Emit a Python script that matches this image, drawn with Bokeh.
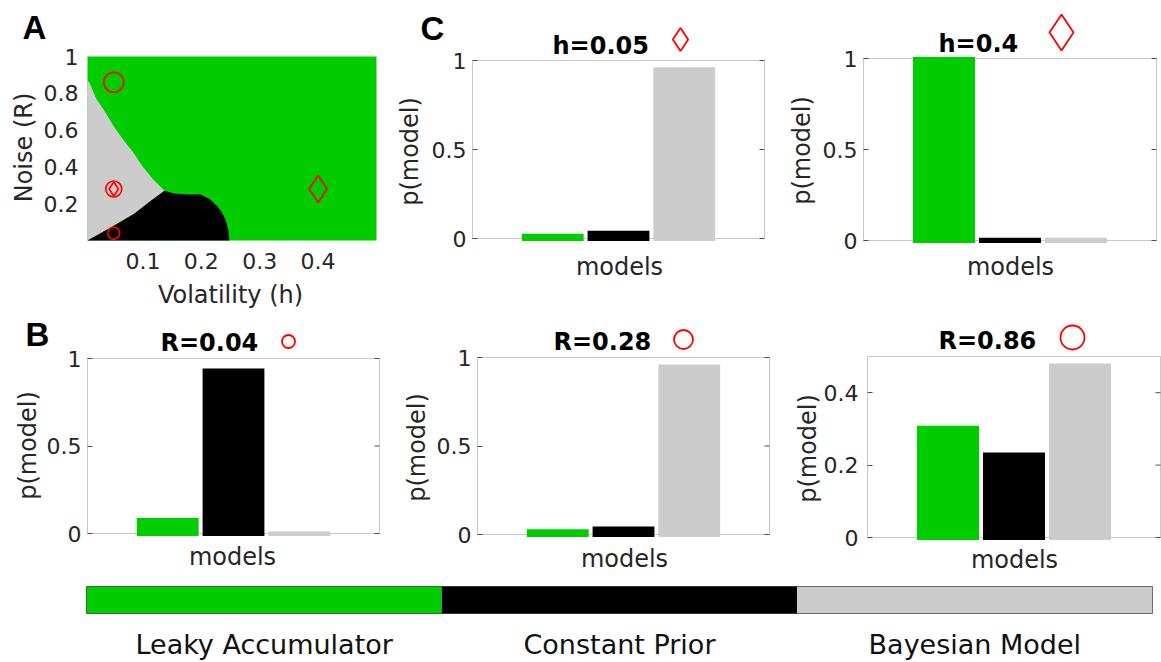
import math
from bokeh.plotting import figure
from bokeh.models import (Label, BoxAnnotation, FixedTicker, NumeralTickFormatter,
                          Range1d, FactorRange)
from bokeh.layouts import row, column
from bokeh.embed import file_html
from bokeh.resources import INLINE

# ---------------- data ----------------
models = ["Leaky Accumulator", "Constant Prior", "Bayesian Model"]
model_colors = ["#00cc00", "#000000", "#cccccc"]
bar_pos = [1, 2, 3]

c1_title = "h=0.05"
c1_vals = [0.027, 0.044, 0.962]
c2_title = "h=0.4"
c2_vals = [1.008, 0.015, 0.015]
b1_title = "R=0.04"
b1_vals = [0.088, 0.943, 0.012]
b2_title = "R=0.28"
b2_vals = [0.030, 0.045, 0.960]
b3_title = "R=0.86"
b3_vals = [0.309, 0.235, 0.481]

# panel A: region boundaries (volatility h, noise R)
gg_h = [0.005, 0.008, 0.020, 0.035, 0.050, 0.067, 0.083, 0.100, 0.118, 0.137]   # gray / green
gg_R = [0.870, 0.860, 0.770, 0.700, 0.620, 0.545, 0.480, 0.400, 0.330, 0.270]
gb_h = [0.005, 0.045, 0.085, 0.113, 0.137]                                      # gray / black
gb_R = [0.0, 0.070, 0.145, 0.215, 0.270]
bk_h = [0.137, 0.153, 0.176, 0.199, 0.214, 0.226, 0.234, 0.241, 0.246, 0.248]   # black / green
bk_R = [0.270, 0.255, 0.250, 0.250, 0.225, 0.190, 0.160, 0.115, 0.060, 0.0]

circle_h = [0.05, 0.05, 0.05]
circle_R = [0.04, 0.28, 0.86]
circle_sz = [12, 16, 20]
diamond_h = [0.05, 0.4]
diamond_R = [0.28, 0.28]
diamond_sz = [14, 27]

a_xlim = (0.005, 0.5)
a_ylim = (0.0, 1.0)
a_xticks = [0.1, 0.2, 0.3, 0.4]
a_yticks = [0.2, 0.4, 0.6, 0.8, 1.0]
bar_xlim = (-0.22, 4.22)
p_ticks = [0, 0.5, 1]
b3_ticks = [0, 0.2, 0.4]

AX = "#4d4d4d"
TXT = "#262626"
FONT = "DejaVu Sans"
TICK_FS = "22px"
LAB_FS = "24px"
BASE_FIX = 7   # svg alphabetic-baseline correction (px)
TICK_LEN = 5   # px
BAR_DROP = 2.5  # px the bars reach below the baseline


class Panel:
    """A figure whose frame fills its whole rectangle; the data box sits at given page pixels."""

    def __init__(self, rect, box_px, box_data):
        fx, fy, fw, fh = rect
        bl, br, bt, bb = box_px
        x0, x1, y0, y1 = box_data
        self.fx, self.fy, self.fw, self.fh = rect
        self.sx = (x1 - x0) / (br - bl)
        self.sy = (y1 - y0) / (bb - bt)
        self.xs = x0 - (bl - fx) * self.sx
        self.ys = y0 - (fy + fh - bb) * self.sy
        xe = x1 + (fx + fw - br) * self.sx
        ye = y1 + (bt - fy) * self.sy
        p = figure(width=fw, height=fh, x_range=Range1d(self.xs, xe), y_range=Range1d(self.ys, ye),
                   output_backend="svg", toolbar_location=None,
                   min_border_left=0, min_border_right=0, min_border_top=0, min_border_bottom=0)
        p.title.visible = False
        p.xgrid.visible = False
        p.ygrid.visible = False
        p.background_fill_color = "white"
        p.border_fill_color = "white"
        p.outline_line_color = None
        self.p = p

    def x(self, px):
        return self.xs + (px - self.fx) * self.sx

    def y(self, py):
        return self.ys + (self.fy + self.fh - py) * self.sy

    def text(self, txt, px, py, size, bold=False, font=FONT, color=TXT, align="left"):
        self.p.add_layout(Label(x=self.x(px), y=self.y(py - BASE_FIX), text=txt, text_font=font,
                                text_font_style="bold" if bold else "normal",
                                text_font_size=size, text_color=color,
                                text_align=align, text_baseline="alphabetic"))

    def vtext(self, txt, px, py, size, color=TXT):
        self.p.add_layout(Label(x=self.x(px), y=self.y(py), text=txt, text_font=FONT,
                                text_font_size=size, text_color=color, angle=math.pi / 2,
                                text_align="center", text_baseline="middle"))


def style_ticks(ax, ticks, loc, standoff, tick_in=0):
    ax.ticker = FixedTicker(ticks=ticks)
    ax.formatter = NumeralTickFormatter(format="0.[0]")
    ax.fixed_location = loc
    ax.axis_line_color = None
    ax.major_tick_in = tick_in
    ax.major_tick_out = 0
    ax.major_tick_line_color = AX if tick_in else None
    ax.minor_tick_line_color = None
    ax.major_label_text_font = FONT
    ax.major_label_text_font_size = TICK_FS
    ax.major_label_text_color = TXT
    ax.major_label_standoff = standoff


def letter(panel, txt, px, py):
    panel.text(txt, px, py, "33px", bold=True, font="Liberation Sans", color="black")


def bar_panel(rect, box_px, ytop, yticks, vals, title, t_px, t_base, mk, mk_px, mk_py,
              mk_size, ylab_c, xlab_c, tstand=6):
    pn = Panel(rect, box_px, (bar_xlim[0], bar_xlim[1], 0.0, ytop))
    p = pn.p
    p.add_layout(BoxAnnotation(left=bar_xlim[0], right=bar_xlim[1], bottom=0, top=ytop,
                               fill_color=None, line_color=AX, line_width=1, level="underlay"))
    p.vbar(x=bar_pos, top=vals, width=0.94, bottom=-BAR_DROP * pn.sy,
           fill_color=model_colors, line_color=None)

    style_ticks(p.yaxis[0], yticks, bar_xlim[0], tstand, tick_in=TICK_LEN)
    p.yaxis[0].bounds = (0, ytop)
    p.xaxis.visible = False
    # inward ticks on the right edge of the box
    p.segment(x0=[bar_xlim[1] - TICK_LEN * pn.sx] * len(yticks), x1=[bar_xlim[1]] * len(yticks),
              y0=yticks, y1=yticks, line_color=AX, line_width=1)

    pn.vtext("p(model)", ylab_c[0], ylab_c[1], LAB_FS)
    pn.text("models", xlab_c[0], xlab_c[1], LAB_FS, align="center")

    pn.text(title, t_px, t_base, "24px", bold=True, color="black")
    p.scatter(x=[pn.x(mk_px)], y=[pn.y(mk_py)], marker=mk, size=mk_size,
              fill_color=None, line_color="red", line_width=1.8)
    return pn


# ---------------- panel A ----------------
pnA = Panel((0, 0, 395, 312), (87, 376, 56, 240), a_xlim + a_ylim)
pA = pnA.p
pA.quad(left=[a_xlim[0]], right=[a_xlim[1]], bottom=[a_ylim[0]], top=[a_ylim[1]],
        fill_color=model_colors[0], line_color=None)
gray_x = gg_h + gb_h[::-1]
gray_y = gg_R + gb_R[::-1]
black_x = gb_h + bk_h
black_y = gb_R + bk_R
pA.patch(gray_x, gray_y, fill_color=model_colors[2], line_color=None)
pA.patch(black_x, black_y, fill_color=model_colors[1], line_color=None)

pA.scatter(x=circle_h, y=circle_R, size=circle_sz, marker="circle",
           fill_color=None, line_color="red", line_width=1.6)
pA.scatter(x=diamond_h, y=diamond_R, size=diamond_sz, marker="diamond",
           fill_color=None, line_color="red", line_width=1.6)

style_ticks(pA.xaxis[0], a_xticks, a_ylim[0], 12)
style_ticks(pA.yaxis[0], a_yticks, a_xlim[0], 9)
pnA.vtext("Noise (R)", 23, 147, LAB_FS)
pnA.text("Volatility (h)", 230, 301, LAB_FS, align="center")
letter(pnA, "A", 22, 34)

# ---------------- panels C ----------------
pnC1 = bar_panel((395, 0, 393, 312), (472, 764, 60, 238), 1.0, p_ticks, c1_vals,
                 c1_title, 552, 52, "diamond", 680, 39, 23, (409, 151), (619, 273))
letter(pnC1, "C", 420, 35)
pnC2 = bar_panel((788, 0, 373, 312), (863, 1156, 58, 240), 1.0, p_ticks, c2_vals,
                 c2_title, 938, 50, "diamond", 1061, 32, 36, (801, 150), (1010, 273))

# ---------------- panels B ----------------
pnB1 = bar_panel((0, 312, 395, 263), (87, 379, 358, 533), 1.0, p_ticks, b1_vals,
                 b1_title, 160, 349, "circle", 288, 341, 13, (27, 445), (232, 563))
letter(pnB1, "B", 25, 341)
pnB2 = bar_panel((395, 312, 395, 263), (477, 769, 357, 534), 1.0, p_ticks, b2_vals,
                 b2_title, 553, 348, "circle", 683, 339, 19, (416, 447), (624, 565))
pnB3 = bar_panel((790, 312, 371, 263), (867, 1160, 356, 537), 0.5, b3_ticks, b3_vals,
                 b3_title, 938, 347, "circle", 1072, 337, 24, (807, 448), (1014, 566), tstand=9)

# ---------------- colour legend bar ----------------
pbar = figure(width=1161, height=87, x_range=FactorRange(factors=models), y_range=Range1d(0, 1),
              output_backend="svg", toolbar_location=None,
              min_border_left=86, min_border_right=9, min_border_top=11, min_border_bottom=44)
pbar.title.visible = False
pbar.xgrid.visible = False
pbar.ygrid.visible = False
pbar.vbar(x=models, top=1, width=1, fill_color=model_colors, line_color=None)
pbar.outline_line_color = AX
pbar.outline_line_width = 1
pbar.yaxis.visible = False
bx = pbar.xaxis[0]
bx.axis_line_color = None
bx.major_tick_line_color = None
bx.major_label_text_font = FONT
bx.major_label_text_font_size = "27px"
bx.major_label_text_color = "#111111"
bx.major_label_standoff = 9

layout = column(row(pA, pnC1.p, pnC2.p), row(pnB1.p, pnB2.p, pnB3.p), pbar)
open("out.html", "w").write(file_html(layout, INLINE))
